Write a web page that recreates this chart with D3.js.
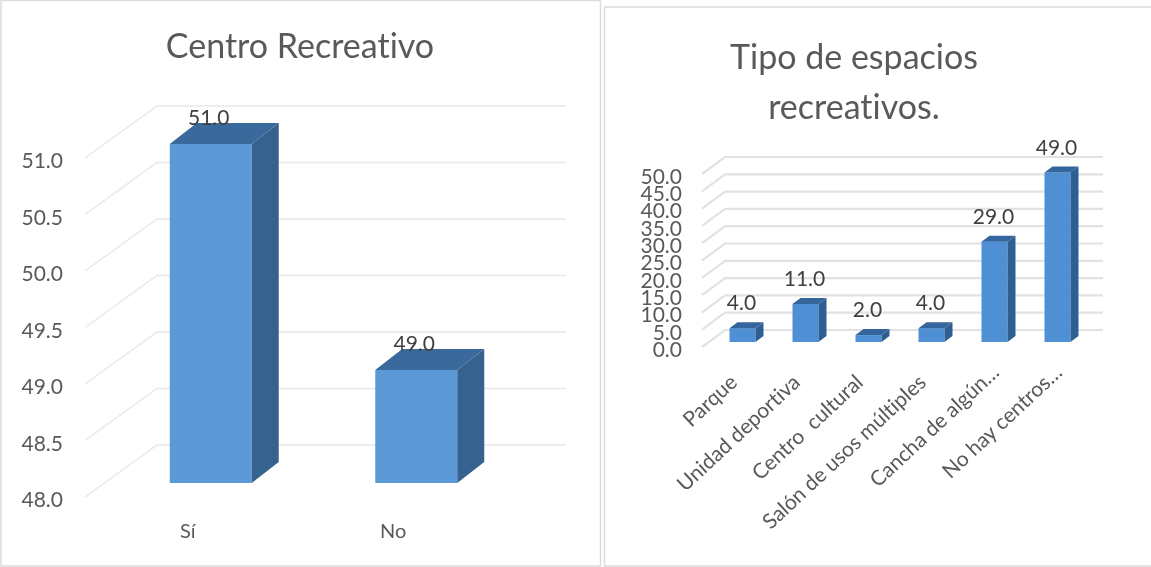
<!DOCTYPE html>
<html>
<head>
<meta charset="utf-8">
<script src="https://d3js.org/d3.v7.min.js"></script>
<style>
  html, body { margin: 0; padding: 0; background: #fff; }
  text { font-family: Lato, "Noto Sans", sans-serif; font-variant-ligatures: none; white-space: pre; }
  svg { filter: blur(0.35px); }
</style>
</head>
<body>
<div id="chart"></div>
<script>
const width = 1151;
const height = 567;

// 왼쪽 차트 데이터
const recreoCategories = ["Sí", "No"];
const recreoValues = [51.0, 49.0];
const recreoTicks = [48.0, 48.5, 49.0, 49.5, 50.0, 50.5, 51.0];

// 오른쪽 차트 데이터
const tipoCategories = ["Parque", "Unidad deportiva", "Centro  cultural", "Salón de usos múltiples", "Cancha de algún…", "No hay centros…"];
const tipoValues = [4.0, 11.0, 2.0, 4.0, 29.0, 49.0];
const tipoTicks = [0, 5, 10, 15, 20, 25, 30, 35, 40, 45, 50];

const svg = d3.select("#chart").append("svg")
    .attr("width", width)
    .attr("height", height)
    .style("display", "block");

svg.append("rect").attr("width", width).attr("height", height).attr("fill", "#fff");

// 패널 테두리
svg.append("path").attr("d", "M1,0V566H600.5V0M1,0.5H600.5")
    .attr("fill", "none").attr("stroke", "#dcdcdc").attr("stroke-width", 1.5);
svg.append("path").attr("d", "M1151,7H604.5V566H1151")
    .attr("fill", "none").attr("stroke", "#dcdcdc").attr("stroke-width", 1.5);

// 3D 막대 차트 하나를 그린다
function draw3d(o) {
    const g = svg.append("g");
    const y = d3.scaleLinear().domain(o.domain).range(o.yRange);
    const x = d3.scaleBand().domain(o.categories).range(o.xRange);

    // 격자선 (옆벽 + 뒷벽)
    o.ticks.forEach(t => {
        const yy = y(t);
        g.append("path")
            .attr("d", `M${o.wallX},${yy}L${o.wallX + o.floorDx},${yy + o.floorDy}L${o.gridEnd},${yy + o.floorDy}`)
            .attr("fill", "none")
            .attr("stroke", o.gridColor)
            .attr("stroke-width", o.gridWidth);
        g.append("text")
            .attr("x", o.tickX)
            .attr("y", yy + o.tickDy)
            .attr("text-anchor", "end")
            .attr("dominant-baseline", "middle")
            .attr("font-size", o.tickSize)
            .attr("fill", "#595959")
            .text(d3.format(".1f")(t));
    });

    // 막대
    o.categories.forEach((c, i) => {
        const v = o.values[i];
        const x0 = x(c) + (x.bandwidth() - o.barWidth) / 2;
        const x1 = x0 + o.barWidth;
        const top = y(v) + o.barLift;
        const bottom = y(o.domain[0]) + o.barLift;
        const dx = o.barDx, dy = o.barDy;
        g.append("rect")
            .attr("x", x0).attr("y", top)
            .attr("width", o.barWidth).attr("height", bottom - top)
            .attr("fill", o.front);
        g.append("path")
            .attr("d", `M${x1},${top}L${x1 + dx},${top - dy}L${x1 + dx},${bottom - dy}L${x1},${bottom}Z`)
            .attr("fill", o.side);
        g.append("path")
            .attr("d", `M${x0},${top}L${x0 + dx},${top - dy}L${x1 + dx},${top - dy}L${x1},${top}Z`)
            .attr("fill", o.roof);
        g.append("text")
            .attr("x", x0 + o.labelDx)
            .attr("y", top - dy - o.labelGap)
            .attr("text-anchor", "middle")
            .attr("dominant-baseline", "middle")
            .attr("font-size", o.labelSize)
            .attr("fill", "#404040")
            .text(d3.format(".1f")(v));

        // 카테고리 라벨
        const lab = g.append("text")
            .attr("font-size", o.catSize)
            .attr("fill", "#595959")
            .text(c);
        if (o.catRotate) {
            // 말줄임 라벨은 조금 더 길게 뻗어 있음
            const cut = c.endsWith("…");
            lab.attr("text-anchor", "end")
                .attr("transform", `translate(${x0 + o.catDx + (cut ? 10 : 0)},${o.catY - (cut ? 10 : 0)}) rotate(${o.catRotate})`);
        } else {
            lab.attr("text-anchor", "middle").attr("x", x0 + o.catDx).attr("y", o.catY);
        }
    });
}

draw3d({
    categories: recreoCategories, values: recreoValues, ticks: recreoTicks,
    domain: [48, 51], yRange: [497, 158], xRange: [108, 519],
    wallX: 85, floorDx: 72, floorDy: -52, gridEnd: 566, gridWidth: 1.5, gridColor: "#e8e8e8",
    tickX: 63, tickDy: 5, tickSize: 21,
    barWidth: 82, barLift: -14, barDx: 27, barDy: 21,
    front: "#5b9ad6", side: "#36628f", roof: "#3a6a9b",
    labelDx: 39, labelGap: 3, labelSize: 21,
    catSize: 20, catDx: 18, catY: 538
});

draw3d({
    categories: tipoCategories, values: tipoValues, ticks: tipoTicks,
    domain: [0, 50], yRange: [347, 174], xRange: [711, 1089],
    wallX: 702, floorDx: 23, floorDy: -17, gridEnd: 1103, gridWidth: 2.2, gridColor: "#e2e2e2",
    tickX: 682, tickDy: 4.5, tickSize: 21,
    barWidth: 26, barLift: -5, barDx: 8, barDy: 6,
    front: "#4f8fd4", side: "#2f5f92", roof: "#34659c",
    labelDx: 12, labelGap: 17, labelSize: 21,
    catSize: 21, catDx: 9, catY: 384, catRotate: -43
});

// 제목
svg.append("text").attr("x", 300).attr("y", 58).attr("text-anchor", "middle")
    .attr("font-size", 34).attr("fill", "#595959").text("Centro Recreativo");
svg.append("text").attr("x", 854).attr("y", 69).attr("text-anchor", "middle")
    .attr("font-size", 34).attr("fill", "#595959").text("Tipo de espacios");
svg.append("text").attr("x", 854).attr("y", 119).attr("text-anchor", "middle")
    .attr("font-size", 34).attr("fill", "#595959").text("recreativos.");
</script>
</body>
</html>
